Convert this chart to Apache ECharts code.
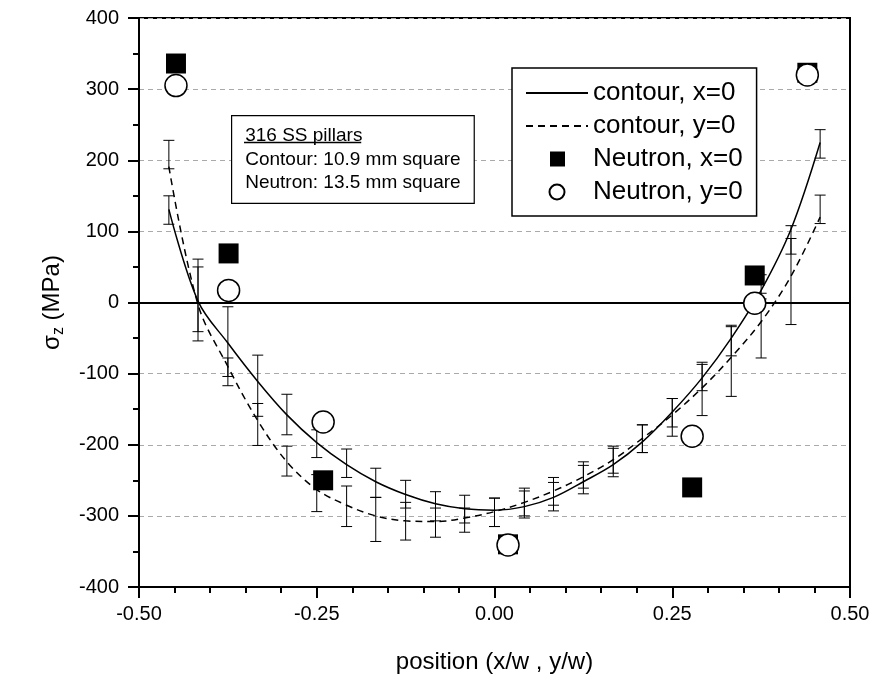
<!DOCTYPE html>
<html>
<head>
<meta charset="utf-8">
<script src="https://cdn.jsdelivr.net/npm/echarts@6/dist/echarts.min.js"></script>
<style>
  html, body { margin: 0; padding: 0; background: #fff; }
  #chart { width: 877px; height: 679px; }
</style>
</head>
<body>
<div id="chart"></div>
<script>
// positions of the contour profile points (x/w)
var xPos = [-0.458, -0.417, -0.375, -0.333, -0.292, -0.250, -0.208, -0.167, -0.125, -0.083, -0.042, 0.000,
            0.042, 0.083, 0.125, 0.167, 0.208, 0.250, 0.292, 0.333, 0.375, 0.417, 0.458];
// fitted contour curves (MPa)
var contourX0 = [131, 2, -57, -111, -158, -197, -228, -252, -270, -283, -290, -292,
                 -287, -274, -252, -228, -196, -154, -106, -50, 17, 103, 225];
var contourY0 = [191, -3, -90, -166, -224, -263, -285, -300, -307, -308, -303, -294,
                 -281, -265, -245, -221, -191, -158, -120, -77, -27, 37, 120];
// error bar ranges (low, high)
var barX0Low  = [110, -41, -104, -160, -186, -218, -246, -274, -289, -307, -310, -315,
                 -300, -293, -269, -240, -211, -175, -124, -75, 5, 68, 203];
var barX0High = [150, 61, -6, -74, -129, -179, -206, -233, -250, -266, -271, -275,
                 -261, -253, -229, -202, -172, -135, -84, -32, 39, 108, 243];
var barY0Low  = [188, -54, -117, -201, -244, -294, -315, -336, -334, -330, -323, -315,
                 -303, -285, -261, -245, -211, -188, -159, -132, -78, -31, 111];
var barY0High = [228, 50, -78, -142, -202, -242, -258, -274, -281, -289, -289, -275,
                 -265, -246, -224, -205, -172, -135, -87, -34, 13, 90, 151];
// neutron diffraction points
var neutronPos = [-0.448, -0.374, -0.241, 0.019, 0.278, 0.366, 0.440];
var neutronX0 = [336, 69, -250, -340, -260, 38, 323];
var neutronY0 = [305, 17, -168, -341, -188, -1, 320];

var FONT = '"Liberation Sans", Arial, sans-serif';

function pairs(xs, ys) {
  return xs.map(function (x, i) { return [x, ys[i]]; });
}
function bars(xs, lo, hi) {
  return xs.map(function (x, i) { return [x, lo[i], hi[i]]; });
}

function renderBar(params, api) {
  var x = api.value(0);
  var pLo = api.coord([x, api.value(1)]);
  var pHi = api.coord([x, api.value(2)]);
  var w = 5.5;
  var st = { stroke: '#000', lineWidth: 1 };
  return {
    type: 'group',
    children: [
      { type: 'line', shape: { x1: pLo[0], y1: pLo[1], x2: pHi[0], y2: pHi[1] }, style: st },
      { type: 'line', shape: { x1: pLo[0] - w, y1: pLo[1], x2: pLo[0] + w, y2: pLo[1] }, style: st },
      { type: 'line', shape: { x1: pHi[0] - w, y1: pHi[1], x2: pHi[0] + w, y2: pHi[1] }, style: st }
    ]
  };
}

// legend icons drawn in a 62x15 box so markers keep their shape
var ICON_SQUARE = 'path://M0,7.5L0,7.5M62,7.5L62,7.5M24,0H39V15H24Z';
var ICON_CIRCLE = 'path://M0,7.5L0,7.5M62,7.5L62,7.5M38.5,7.5A7.5,7.5,0,1,1,23.5,7.5A7.5,7.5,0,1,1,38.5,7.5Z';

var ctx = document.createElement('canvas').getContext('2d');
ctx.font = '19px "Liberation Sans"';
var titleW = ctx.measureText('316 SS pillars').width;

var myChart = echarts.init(document.getElementById('chart'));
var option = {
  backgroundColor: '#fff',
  animation: false,
  textStyle: { fontFamily: FONT },
  grid: {
    left: 139, right: 27, top: 18, bottom: 90,
    show: true, borderColor: '#000', borderWidth: 2
  },
  legend: {
    orient: 'vertical',
    left: 512, top: 68,
    data: [
      { name: 'contour, x=0', itemStyle: { opacity: 0 } },
      { name: 'contour, y=0', itemStyle: { opacity: 0 } },
      { name: 'Neutron, x=0', icon: ICON_SQUARE },
      { name: 'Neutron, y=0', icon: ICON_CIRCLE }
    ],
    itemWidth: 62, itemHeight: 15, itemGap: 7,
    padding: [12, 14, 11, 13],
    backgroundColor: '#fff', borderColor: '#000', borderWidth: 1.5, borderRadius: 0,
    textStyle: { fontSize: 26, color: '#000', fontFamily: FONT },
    selectedMode: false
  },
  xAxis: {
    type: 'value', min: -0.5, max: 0.5, interval: 0.25,
    name: 'position (x/w , y/w)', nameLocation: 'middle', nameGap: 63,
    nameTextStyle: { fontSize: 24, color: '#000', fontFamily: FONT },
    axisLine: { onZero: false, lineStyle: { color: '#000', width: 2 } },
    axisTick: { length: 11, lineStyle: { color: '#000', width: 2 } },
    minorTick: { show: true, splitNumber: 5, length: 6, lineStyle: { color: '#000', width: 2 } },
    axisLabel: { fontSize: 20, color: '#000', margin: 17, fontFamily: FONT,
      formatter: function (v) { return v.toFixed(2); } },
    splitLine: { show: false }
  },
  yAxis: {
    type: 'value', min: -400, max: 400, interval: 100,
    name: '{a|σ}{sub|z}{a| (MPa)}', nameLocation: 'middle', nameGap: 72,
    nameTextStyle: {
      color: '#000', fontFamily: FONT,
      rich: {
        a: { fontSize: 24, color: '#000', fontFamily: FONT },
        sub: { fontSize: 16, color: '#000', fontFamily: FONT, padding: [14, 0, 0, 0] }
      }
    },
    axisLine: { onZero: false, lineStyle: { color: '#000', width: 2 } },
    axisTick: { length: 11, lineStyle: { color: '#000', width: 2 } },
    minorTick: { show: true, splitNumber: 2, length: 6, lineStyle: { color: '#000', width: 2 } },
    axisLabel: { fontSize: 20, color: '#000', margin: 20, fontFamily: FONT },
    splitLine: { show: true, lineStyle: { color: '#aaa', width: 1, type: [5, 4] } }
  },
  graphic: [
    {
      type: 'text', left: 231, top: 115, z: 100,
      style: {
        text: '316 SS pillars\nContour: 10.9 mm square\nNeutron: 13.5 mm square',
        font: '19px ' + FONT, fill: '#000', lineHeight: 23.5,
        backgroundColor: '#fff', borderColor: '#000', borderWidth: 1.2,
        padding: [8, 13, 8, 13]
      }
    },
    {
      type: 'line', z: 101,
      shape: { x1: 244, y1: 142.5, x2: 244 + titleW, y2: 142.5 },
      style: { stroke: '#000', lineWidth: 1.5 }
    }
  ],
  series: [
    {
      type: 'custom', name: 'err x0', renderItem: renderBar, silent: true, z: 2,
      encode: { x: 0, y: [1, 2] }, data: bars(xPos, barX0Low, barX0High)
    },
    {
      type: 'custom', name: 'err y0', renderItem: renderBar, silent: true, z: 2,
      encode: { x: 0, y: [1, 2] }, data: bars(xPos, barY0Low, barY0High)
    },
    {
      name: 'contour, x=0', type: 'line', smooth: 0.35, symbol: 'none', z: 3,
      lineStyle: { color: '#000', width: 1.5, type: 'solid' },
      itemStyle: { color: '#000' },
      data: pairs(xPos, contourX0),
      markLine: {
        silent: true, symbol: 'none', label: { show: false },
        lineStyle: { color: '#000', width: 2, type: 'solid' },
        data: [{ yAxis: 0 }]
      }
    },
    {
      name: 'contour, y=0', type: 'line', smooth: 0.35, symbol: 'none', z: 3,
      lineStyle: { color: '#000', width: 1.5, type: [7, 5] },
      itemStyle: { color: '#000' },
      data: pairs(xPos, contourY0)
    },
    {
      name: 'Neutron, x=0', type: 'scatter', symbol: 'rect', symbolSize: 20, z: 4,
      itemStyle: { color: '#000', opacity: 1 },
      data: pairs(neutronPos, neutronX0)
    },
    {
      name: 'Neutron, y=0', type: 'scatter', symbol: 'circle', symbolSize: 22, z: 5,
      itemStyle: { color: '#fff', borderColor: '#000', borderWidth: 1.5, opacity: 1 },
      data: pairs(neutronPos, neutronY0)
    }
  ]
};
myChart.setOption(option);
</script>
</body>
</html>
